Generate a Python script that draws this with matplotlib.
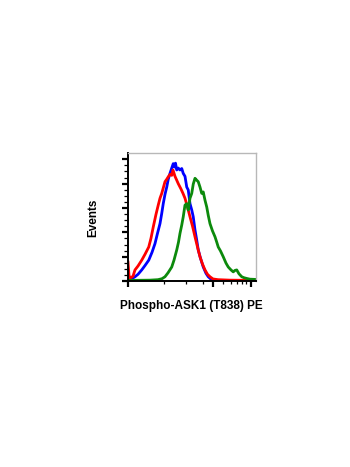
import matplotlib
matplotlib.use("Agg")
from matplotlib import pyplot as plt

# histogram traces: channel (0-1024) vs events
red_x = [0, 8, 16, 40, 56, 80, 110, 136, 166, 184, 202, 224, 242, 256, 270, 282, 296, 310, 322,
         336, 350, 360, 376, 390, 402, 424, 440, 456, 476, 496, 516, 536, 556, 576, 596, 616,
         636, 656, 680, 720, 816, 1024]
red_y = [39, 12, 6, 10, 23, 31, 43, 55, 70, 88, 111, 137, 156, 170, 180, 191, 204, 209, 214,
         219, 217, 228, 215, 207, 200, 189, 180, 170, 152, 132, 113, 91, 70, 50, 35, 23,
         14, 9, 4.5, 3, 2, 1.5]

blue_x = [0, 24, 56, 80, 110, 136, 166, 192, 216, 236, 256, 270, 282, 296, 310, 322, 336, 350,
          362, 372, 380, 390, 402, 416, 430, 442, 456, 470, 482, 496, 510, 522, 536, 550, 562,
          580, 602, 624, 642, 664, 682, 736, 1024]
blue_y = [2, 4, 9, 14, 23, 32, 43, 59, 77, 98, 118, 139, 159, 178, 193, 209, 221, 232,
          241, 234, 242, 228, 232, 228, 231, 221, 215, 193, 187, 159, 146, 132, 105, 84, 64,
          47, 29, 16, 9, 4, 2, 1, 1]

green_x = [0, 176, 240, 272, 296, 320, 350, 368, 390, 404, 416, 430, 442, 456, 470, 482, 496,
           510, 522, 536, 550, 562, 576, 590, 602, 616, 630, 642, 656, 676, 696, 710, 722, 740,
           762, 784, 802, 824, 842, 856, 870, 888, 910, 928, 950, 976, 1024]
green_y = [1.5, 2, 3, 5, 9, 17, 29, 43, 64, 80, 98, 115, 132, 156, 159, 146, 170,
           180, 199, 211, 207, 204, 193, 180, 183, 166, 152, 135, 118, 103, 91, 80, 70, 62,
           50, 37, 29, 23, 19, 22, 23, 15, 9, 7, 5.5, 4, 3.5]

x_major = [0, 984]
x_mid = [682]
x_minor = [290, 466, 598, 762, 822, 870, 910, 944]
y_major = [0, 50, 100, 150, 200, 250]
y_minor = [12.5 * i for i in range(21) if i % 4]

fig = plt.figure(figsize=(3.5, 4.67), dpi=100)
ax = fig.add_axes([0.3657, 0.398, 0.3657, 0.274])

ax.plot(blue_x, blue_y, color="#0000ff", lw=2.0)
ax.plot(red_x, red_y, color="#ff0000", lw=2.0)
ax.plot(green_x, green_y, color="#0c8a0c", lw=2.0)

ax.set_xlim(0, 1024)
ax.set_ylim(0, 262.5)

ax.set_xticks(x_major + x_mid)
ax.set_xticks(x_minor, minor=True)
ax.set_yticks(y_major)
ax.set_yticks(y_minor, minor=True)
ax.set_xticklabels([])
ax.set_yticklabels([])
ax.tick_params(axis="both", which="major", direction="out", length=4.5, width=1.6, color="black")
ax.tick_params(axis="both", which="minor", direction="out", length=2.5, width=0.9, color="black")
ax.tick_params(axis="y", which="minor", length=3)

for s in ("top", "right"):
    ax.spines[s].set_color("#b8b8b8")
    ax.spines[s].set_linewidth(1.0)
for s in ("left", "bottom"):
    ax.spines[s].set_color("black")
    ax.spines[s].set_linewidth(1.4)

fig.text(0.266, 0.533, "Events", rotation=90, ha="center", va="center",
         fontsize=8.5, fontweight="bold", family="Liberation Sans")
fig.text(0.547, 0.3454, "Phospho-ASK1 (T838) PE", ha="center", va="center",
         fontsize=8.5, fontweight="bold", family="Liberation Sans")

fig.savefig("out.png", dpi=100)
